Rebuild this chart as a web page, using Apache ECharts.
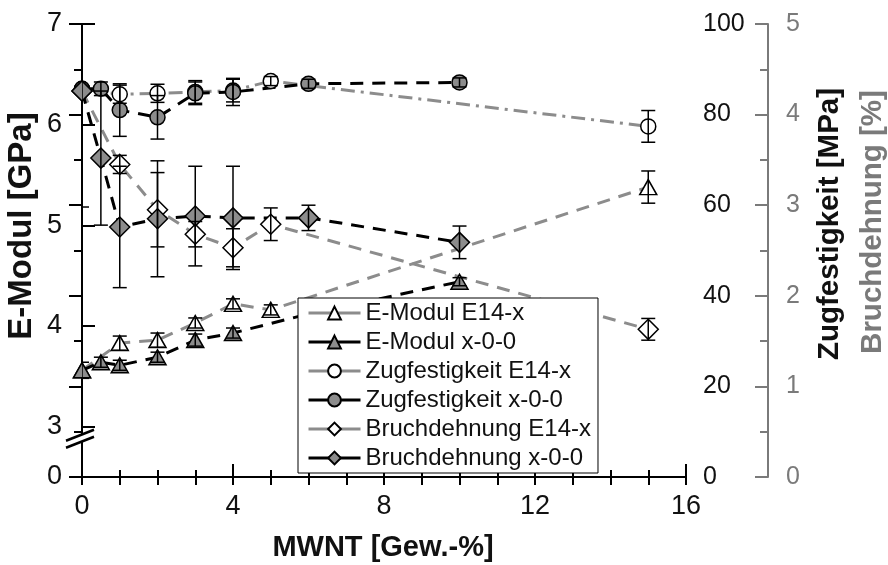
<!DOCTYPE html>
<html><head><meta charset="utf-8">
<script src="https://cdn.jsdelivr.net/npm/echarts@6/dist/echarts.min.js"></script>
<style>html,body{margin:0;padding:0;background:#fff}#c{width:888px;height:565px}</style>
</head><body><div id="c"></div>
<script>
// ---- data ----
const xE14 = [0, 1, 2, 3, 4, 5, 15];
const xX00 = [0, 0.5, 1, 2, 3, 4, 6, 10];

const emodE14    = [3.56, 3.83, 3.86, 4.03, 4.22, 4.16, 5.38];
const emodE14Err = [0, 0.07, 0.07, 0.05, 0.05, 0.05, 0.16];
const emodX00    = [3.56, 3.64, 3.61, 3.69, 3.86, 3.93, 4.12, 4.44];
const emodX00Err = [0.08, 0.05, 0.05, 0.05, 0.06, 0.05, 0.05, 0.04];

const zugE14     = [85.7, 84.5, 84.7, 85.0, 85.3, 87.4, 77.4];
const zugE14Err  = [0, 2, 2, 2.5, 2.5, 1, 3.5];
const zugX00     = [85.7, 85.7, 81.0, 79.4, 84.7, 85.0, 86.8, 87.1];
const zugX00Err  = [0, 1.5, 5.8, 4.8, 2.5, 3, 1, 1];

const bruchE14    = [4.26, 3.45, 2.95, 2.68, 2.53, 2.79, 1.63];
const bruchE14Err = [0, 0.1, 0.41, 0.14, 0.21, 0.18, 0.12];
const bruchX00    = [4.26, 3.52, 2.76, 2.85, 2.88, 2.86, 2.86, 2.59];
const bruchX00Err = [1.28, 0.74, 0.67, 0.64, 0.55, 0.57, 0.14, 0.18];

const seriesNames = ['E-Modul E14-x','E-Modul x-0-0','Zugfestigkeit E14-x','Zugfestigkeit x-0-0','Bruchdehnung E14-x','Bruchdehnung x-0-0'];
const leftLabelValues = [2.5, 3, 4, 5, 6, 7];
const leftLabelTexts  = ['0', '3', '4', '5', '6', '7'];
const leftTickValues  = [3, 4, 5, 6, 7];
const titles = {x:'MWNT [Gew.-%]', left:'E-Modul [GPa]', right1:'Zugfestigkeit [MPa]', right2:'Bruchdehnung [%]'};

// ---- styling ----
const FONT = 'Liberation Sans';
const GRAY = '#8c8c8c';
const AXGRAY = '#7a7a7a';
const chart = echarts.init(document.getElementById('c'), null, {renderer:'canvas'});

function pts(xs, ys){ return xs.map((x,i)=>[x, ys[i]]); }
function errSeries(xs, ys, errs, yIdx){
  return {
    type:'custom', yAxisIndex:yIdx, z:6, silent:true, clip:true,
    data: xs.map((x,i)=>[x, ys[i], errs[i]]),
    renderItem(params, api){
      const x = api.value(0), y = api.value(1), e = api.value(2);
      if (!e) return null;
      const t = api.coord([x, y+e]), b = api.coord([x, y-e]);
      const hw = 7, st = {stroke:'#000', lineWidth:1.5};
      return {type:'group', children:[
        {type:'line', shape:{x1:t[0],y1:t[1],x2:b[0],y2:b[1]}, style:st},
        {type:'line', shape:{x1:t[0]-hw,y1:t[1],x2:t[0]+hw,y2:t[1]}, style:st},
        {type:'line', shape:{x1:b[0]-hw,y1:b[1],x2:b[0]+hw,y2:b[1]}, style:st}
      ]};
    }
  };
}
function lineSeries(name, data, yIdx, symbol, size, fill, lineColor, dash){
  return {
    name, type:'line', yAxisIndex:yIdx, data, symbol, symbolSize:size, z:4,
    showAllSymbol:true,
    itemStyle:{color:fill, borderColor:'#000', borderWidth:1.5},
    lineStyle:{color:lineColor, width:3, type:dash},
    emphasis:{disabled:true}
  };
}

const tickLabel = {fontFamily:FONT, fontSize:27, color:'#111'};
const tickLabelR = {fontFamily:FONT, fontSize:25, color:'#111'};

const option = {
  animation:false,
  backgroundColor:'#fff',
  grid:{left:82, right:202, top:24, bottom:88, containLabel:false, outerBoundsMode:'none'},
  legend:{
    data:seriesNames, orient:'vertical', left:298, top:298,
    backgroundColor:'#fff', borderColor:'#000', borderWidth:1,
    padding:[3,7,3,9], itemWidth:52, itemHeight:16, itemGap:5,
    textStyle:{fontFamily:FONT, fontSize:24, color:'#111'},
    lineStyle:{type:'solid', width:3}, z:10, selectedMode:false
  },
  xAxis:[
    {type:'value', position:'bottom', min:0, max:16, interval:4,
     axisLine:{lineStyle:{color:'#000', width:2}},
     axisTick:{inside:true, length:13, lineStyle:{color:'#000', width:2}},
     minorTick:{show:true, splitNumber:4, length:7, lineStyle:{color:'#000', width:2}},
     splitLine:{show:false}, axisLabel:Object.assign({margin:16}, tickLabel)},
    {type:'value', position:'top', min:0, max:16, interval:4,
     axisLine:{lineStyle:{color:'#000', width:2}},
     axisTick:{inside:true, length:8, lineStyle:{color:'#000', width:2}},
     minorTick:{show:true, splitNumber:4, length:8, lineStyle:{color:'#000', width:2}},
     splitLine:{show:false}, axisLabel:{show:false}}
  ],
  yAxis:[
    {type:'value', position:'left', min:2.5, max:7, interval:0.5,
     axisLine:{show:true, lineStyle:{color:'#000', width:2}},
     axisTick:{show:true, inside:true, length:13, customValues:leftTickValues, lineStyle:{color:'#000', width:2}},
     splitLine:{show:false},
     axisLabel:Object.assign({margin:20, customValues:leftLabelValues,
       formatter:v=>{const i=leftLabelValues.indexOf(v); return i>=0?leftLabelTexts[i]:'';}}, tickLabel)},
    {type:'value', position:'right', min:0, max:100, interval:20,
     axisLine:{show:true, lineStyle:{color:'#000', width:2}},
     axisTick:{show:true, inside:true, length:13, lineStyle:{color:'#000', width:2}},
     minorTick:{show:true, splitNumber:2, length:8, lineStyle:{color:'#000', width:2}},
     splitLine:{show:false}, axisLabel:Object.assign({margin:17}, tickLabelR)},
    {type:'value', position:'right', offset:82, min:0, max:5, interval:1,
     axisLine:{show:true, lineStyle:{color:AXGRAY, width:2}},
     axisTick:{show:true, inside:true, length:13, lineStyle:{color:AXGRAY, width:2}},
     minorTick:{show:true, splitNumber:2, length:8, lineStyle:{color:AXGRAY, width:2}},
     splitLine:{show:false}, axisLabel:Object.assign({}, tickLabelR, {margin:18, color:AXGRAY})}
  ],
  series:[
    lineSeries(seriesNames[0], pts(xE14, emodE14), 0, 'triangle', [17,15], '#fff', GRAY, [13,9]),
    lineSeries(seriesNames[1], pts(xX00, emodX00), 0, 'triangle', [17,15], GRAY, '#000', [13,9]),
    lineSeries(seriesNames[2], pts(xE14, zugE14), 1, 'circle', 15, '#fff', GRAY, [14,6,3,6]),
    lineSeries(seriesNames[3], pts(xX00, zugX00), 1, 'circle', 15, GRAY, '#000', [13,9]),
    lineSeries(seriesNames[4], pts(xE14, bruchE14), 2, 'diamond', 20, '#fff', GRAY, [13,9]),
    lineSeries(seriesNames[5], pts(xX00, bruchX00), 2, 'diamond', 20, GRAY, '#000', [13,9]),
    errSeries(xE14, emodE14, emodE14Err, 0),
    errSeries(xX00, emodX00, emodX00Err, 0),
    errSeries(xE14, zugE14, zugE14Err, 1),
    errSeries(xX00, zugX00, zugX00Err, 1),
    errSeries(xE14, bruchE14, bruchE14Err, 2),
    errSeries(xX00, bruchX00, bruchX00Err, 2)
  ]
};
chart.setOption(option);

// axis titles + axis-break marker (decorative)
const bx = chart.convertToPixel({xAxisIndex:0}, 0);
const by = chart.convertToPixel({yAxisIndex:0}, 2.92);
function vtext(txt, x, y, size, color){
  return {type:'text', x, y, rotation:Math.PI/2, z:30,
    style:{text:txt, fontFamily:FONT, fontSize:size, fontWeight:'bold', fill:color, align:'center', verticalAlign:'middle'}};
}
chart.setOption({graphic:[
  {type:'polygon', z:20, shape:{points:[[bx-14,by+6],[bx+14,by-6],[bx+14,by+1],[bx-14,by+13]]}, style:{fill:'#fff'}},
  {type:'line', z:21, shape:{x1:bx-16,y1:by+6,x2:bx+12,y2:by-5}, style:{stroke:'#000', lineWidth:2.5}},
  {type:'line', z:21, shape:{x1:bx-16,y1:by+13,x2:bx+12,y2:by+2}, style:{stroke:'#000', lineWidth:2.5}},
  vtext(titles.left, 22, 226, 33, '#111'),
  vtext(titles.right1, 830, 224, 29.5, '#111'),
  vtext(titles.right2, 873, 222, 29.5, AXGRAY),
  {type:'text', x:383, y:548, z:30,
   style:{text:titles.x, fontFamily:FONT, fontSize:29, fontWeight:'bold', fill:'#111', align:'center', verticalAlign:'middle'}}
]});
</script></body></html>
